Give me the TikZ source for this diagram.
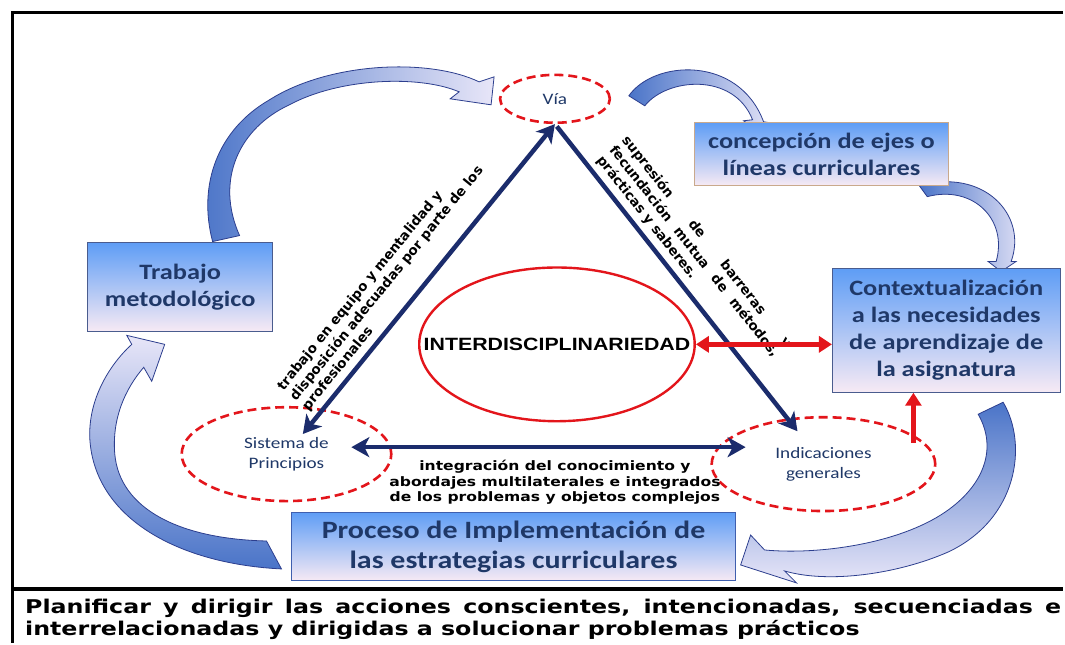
\documentclass[tikz,border=0pt]{standalone}
\usepackage{fontspec}
\usetikzlibrary{arrows.meta,shapes.geometric,calc}

\newfontfamily\boxfont{Carlito}[FakeStretch=1.2]
\newfontfamily\verdfont{DejaVu Sans}[FakeStretch=1.2]
\newfontfamily\capfont{DejaVu Sans}[FakeStretch=1.25]
\newfontfamily\slopefont{DejaVu Sans}
\newfontfamily\arialfont{Liberation Sans}[FakeStretch=1.2]

\definecolor{navyline}{HTML}{1B2C6C}
\definecolor{redline}{HTML}{E3151B}
\definecolor{boxtop}{HTML}{5E9DF5}
\definecolor{boxbot}{HTML}{F7EAF4}
\definecolor{boxtext}{HTML}{1F3868}
\definecolor{edgeslate}{HTML}{4A5C8E}
\definecolor{edgetan}{HTML}{C9A98C}
\definecolor{edgeblue}{HTML}{3F5FAE}
\definecolor{arrdark}{HTML}{4A74C8}
\definecolor{arrlight}{HTML}{E8E6F8}
\definecolor{arredge}{HTML}{2C3E8E}

\tikzset{
  dashell/.style={ellipse, draw=redline, line width=2.6pt, dash pattern=on 9pt off 5pt,
    inner sep=0pt, text=boxtext, align=center, font=\boxfont\fontsize{16}{20}\selectfont},
  interell/.style={ellipse, draw=redline, line width=2.4pt, inner sep=0pt},
  bluebox/.style={rectangle, draw=#1, line width=1pt, top color=boxtop, bottom color=boxbot,
    text=boxtext, align=center, font=\boxfont\bfseries\fontsize{22}{27}\selectfont},
  navyarrow/.style={draw=navyline, line width=4.5pt},
  redarrow/.style={draw=redline, line width=4.5pt},
  blockarrow/.style={draw=arredge, line width=0.8pt},
  slopelbl/.style={font=\slopefont\bfseries\fontsize{13.5}{16}\selectfont, inner sep=5pt, align=left},
  midlbl/.style={font=\verdfont\bfseries\fontsize{13}{15.5}\selectfont, inner sep=2pt, align=center},
  caption/.style={font=\capfont\bfseries\fontsize{19}{22}\selectfont, inner sep=0pt, align=left}
}

\begin{document}
\begin{tikzpicture}[x=1pt, y=-1pt]
  \fill[white] (0,0) rectangle (1065,644);

  % curved block arrows
  \shadedraw[blockarrow, left color=arrdark, right color=arrlight]
    (213,242) .. controls (198,185) and (218,130) .. (270,100)
    .. controls (330,62) and (430,58) .. (480,82)
    -- (495,77) -- (492,105) -- (451,99) -- (460,92)
    .. controls (420,75) and (340,78) .. (290,105)
    .. controls (240,128) and (215,180) .. (240,236) -- cycle;
  \shadedraw[blockarrow, left color=arrdark, right color=arrlight]
    (630,96) .. controls (655,60) and (740,55) .. (765,122)
    -- (778,124) -- (767,137) -- (745,121) -- (754,120)
    .. controls (735,72) and (668,78) .. (646,106) -- cycle;
  \shadedraw[blockarrow, left color=arrdark, right color=arrlight]
    (921,186) .. controls (985,168) and (1030,215) .. (1013,262)
    -- (1018,262) -- (1003,272) -- (990,262) -- (998,262)
    .. controls (1010,220) and (975,185) .. (929,197) -- cycle;
  \shadedraw[blockarrow, top color=arrdark, bottom color=arrlight]
    (1005,403) .. controls (1030,445) and (1020,520) .. (950,553)
    .. controls (900,575) and (830,585) .. (786,572)
    -- (798,584) -- (742,566) -- (752,536) -- (766,551)
    .. controls (820,556) and (900,545) .. (947,513)
    .. controls (985,487) and (1000,450) .. (980,415) -- cycle;
  \shadedraw[blockarrow, top color=arrlight, bottom color=arrdark]
    (282,570) .. controls (180,565) and (95,520) .. (90,440)
    .. controls (88,400) and (110,365) .. (132,345)
    -- (127,336) -- (165,345) -- (152,382) -- (144,368)
    .. controls (125,390) and (112,420) .. (115,455)
    .. controls (120,510) and (180,540) .. (267,542) -- cycle;

  % ellipses
  \node[dashell, minimum width=110pt, minimum height=48pt] (via) at (556,99) {Vía};
  \node[dashell, minimum width=210pt, minimum height=94pt] (sistema) at (287,455) {Sistema de\\Principios};
  \node[dashell, minimum width=224pt, minimum height=94pt] (indica) at (825,465) {Indicaciones\\generales};
  \node[interell, minimum width=276pt, minimum height=154pt,
    label={[font=\arialfont\bfseries\fontsize{17.8}{22}\selectfont]center:INTERDISCIPLINARIEDAD}] (inter) at (558,345) {};

  % boxes
  \node[bluebox=edgeslate, minimum width=185pt, minimum height=89pt] (trabajo) at (180.5,287.5) {Trabajo\\metodológico};
  \node[bluebox=edgetan, minimum width=254pt, minimum height=63pt] (concep) at (823,154.5) {concepción de ejes o\\líneas curriculares};
  \node[bluebox=edgeslate, minimum width=228pt, minimum height=124pt] (context) at (948,331) {Contextualización\\a las necesidades\\de aprendizaje de\\la asignatura};
  \node[bluebox=edgeblue, minimum width=445pt, minimum height=69pt,
    font=\boxfont\bfseries\fontsize{25}{30}\selectfont] (proceso) at (514.5,547.5) {Proceso de Implementación de\\las estrategias curriculares};

  % triangle of relations
  \draw[navyarrow, {Stealth[length=18pt,width=20pt,inset=5pt]}-{Stealth[length=18pt,width=20pt,inset=5pt]}, shorten <=26pt]
    (sistema.center) -- (via.south)
    node[pos=0.46, sloped, above, slopelbl] {trabajo en equipo y mentalidad y\\disposición adecuadas por parte de los\\profesionales};
  \draw[navyarrow, -{Stealth[length=18pt,width=20pt,inset=5pt]}, shorten <=3pt, shorten >=42pt]
    (via.south) -- (indica.center)
    node[pos=0.43, sloped, above, slopelbl] {\makebox[265pt][s]{supresión de barreras y}\\\makebox[265pt][s]{fecundación mutua de métodos,}\\prácticas y saberes.};
  \draw[navyarrow, {Stealth[length=18pt,width=20pt,inset=5pt]}-{Stealth[length=18pt,width=20pt,inset=5pt]}, shorten <=65pt, shorten >=78pt]
    ([yshift=7pt]sistema.center) -- ([yshift=17pt]indica.center)
    node[midway, below=9pt, midlbl] {integración del conocimiento y\\abordajes multilaterales e integrados\\de los problemas y objetos complejos};

  \draw[redarrow, {Triangle[length=13pt,width=16pt]}-{Triangle[length=13pt,width=16pt]}] (inter.east) -- (inter.east -| context.west);
  \draw[redarrow, -{Triangle[length=13pt,width=16pt]}, shorten <=-8pt] (indica.18) -- (indica.18 |- context.south);

  % frame and bottom caption
  \draw[line width=3pt] (1065,13) -- (13,13) -- (13,644);
  \draw[line width=4pt] (13,590) -- (1065,590);
  \node[caption, anchor=base west] (plan) at (25,637)
    {\makebox[1038pt][s]{Planificar y dirigir las acciones conscientes, intencionadas, secuenciadas e}\\interrelacionadas y dirigidas a solucionar problemas prácticos};
\end{tikzpicture}
\end{document}
